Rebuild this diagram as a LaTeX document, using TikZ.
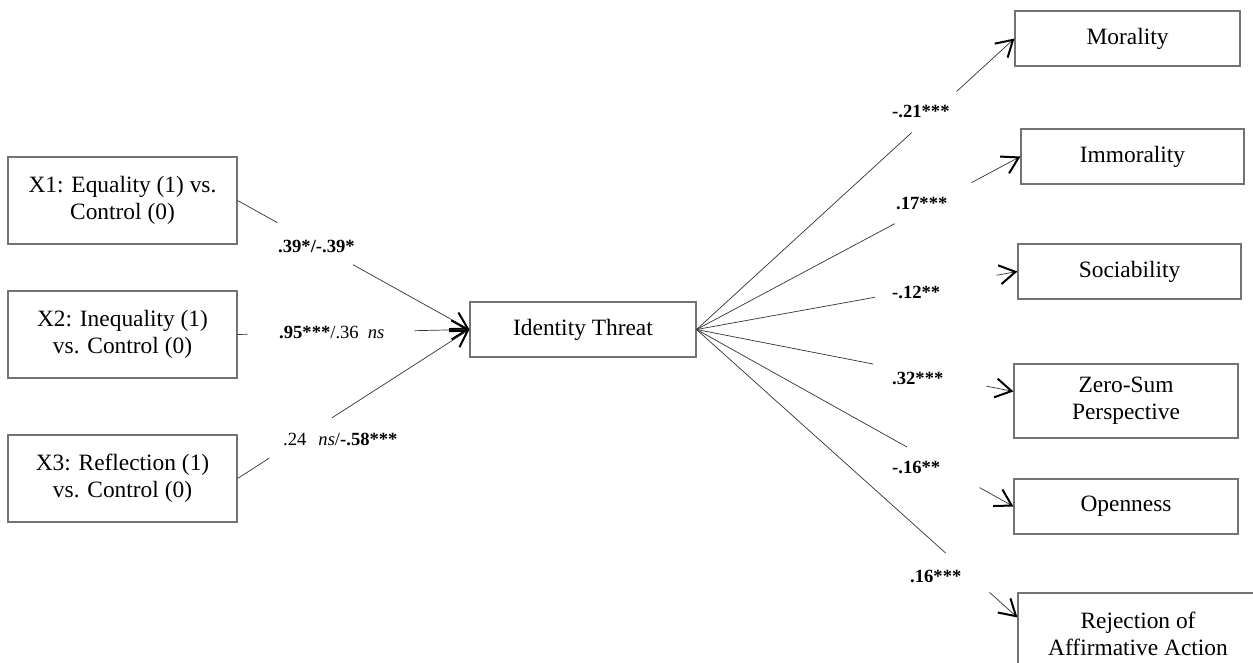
\documentclass[tikz,border=0pt]{standalone}
\usepackage{fontspec}
\setmainfont{Liberation Serif}
\usetikzlibrary{arrows.meta,calc}
\begin{document}
\begin{tikzpicture}[x=1pt,y=-1pt,
  box/.style={draw=black!55, line width=1.1pt, inner sep=0pt, align=center,
              font=\fontsize{23.4}{27}\selectfont},
  conn/.style={draw=black!80, line width=0.7pt},
  arr/.style={conn, -{Straight Barb[length=16pt,width=19pt,line width=2pt,color=black]}},
  lab/.style={anchor=base west, inner sep=0pt, font=\fontsize{18.6}{22}\selectfont\bfseries},
  labm/.style={anchor=base west, inner sep=0pt, font=\fontsize{18.6}{22}\selectfont}]
\useasboundingbox[fill=white] (0,0) rectangle (1253,663);

% left boxes
\node[box, minimum width=229pt, minimum height=87pt] (x1) at (122.5,200.5) {X1: Equality (1) vs.\\Control (0)};
\node[box, minimum width=229pt, minimum height=87pt] (x2) at (122.5,334.5) {X2: Inequality (1)\\vs. Control (0)};
\node[box, minimum width=229pt, minimum height=87pt] (x3) at (122.5,478.5) {X3: Reflection (1)\\vs. Control (0)};
% mediator
\node[box, minimum width=226pt, minimum height=55pt] (it) at (583,329.5) {Identity Threat};
% outcomes
\node[box, minimum width=225pt, minimum height=55pt] (mor) at (1127.5,38.5) {Morality};
\node[box, minimum width=223pt, minimum height=55pt] (imm) at (1132.5,156.5) {Immorality};
\node[box, minimum width=223pt, minimum height=55pt] (soc) at (1129.5,271.5) {Sociability};
\node[box, minimum width=224pt, minimum height=74pt] (zs) at (1126,401) {Zero-Sum\\Perspective};
\node[box, minimum width=224pt, minimum height=55pt] (opn) at (1126,506.5) {Openness};
\node[box, minimum width=240pt, minimum height=82pt] (rej) at (1138,634) {Rejection of\\Affirmative Action};

\coordinate (zsin) at ($(zs.north west)+(0,28)$);
\coordinate (rejin) at ($(rej.north west)+(0,25)$);

% left connectors (with gaps for labels)
\draw[conn] (x1.east) -- ($(x1.east)!0.172!(it.west)$);
\draw[arr] ($(x1.east)!0.498!(it.west)$) -- (it.west);
\draw[conn] (x2.east) -- ($(x2.east)!0.043!(it.west)$);
\draw[arr] ($(x2.east)!0.764!(it.west)$) -- (it.west);
\draw[conn] (x3.east) -- ($(x3.east)!0.137!(it.west)$);
\draw[arr] ($(x3.east)!0.408!(it.west)$) -- (it.west);

% right connectors
\draw[conn] (it.east) -- ($(it.east)!0.677!(mor.west)$);
\draw[arr] ($(it.east)!0.818!(mor.west)$) -- (mor.west);
\draw[conn] (it.east) -- ($(it.east)!0.612!(imm.west)$);
\draw[arr] ($(it.east)!0.849!(imm.west)$) -- (imm.west);
\draw[conn] (it.east) -- ($(it.east)!0.556!(soc.west)$);
\draw[arr] ($(it.east)!0.935!(soc.west)$) -- (soc.west);
\draw[conn] (it.east) -- ($(it.east)!0.557!(zsin)$);
\draw[arr] ($(it.east)!0.915!(zsin)$) -- (zsin);
\draw[conn] (it.east) -- ($(it.east)!0.664!(opn.west)$);
\draw[arr] ($(it.east)!0.893!(opn.west)$) -- (opn.west);
\draw[conn] (it.east) -- ($(it.east)!0.776!(rejin)$);
\draw[arr] ($(it.east)!0.913!(rejin)$) -- (rejin);

% labels
\node[lab] (l1) at (278,252.5) {.39*/-.39*};
\node[labm] (l2) at (279,338) {\textbf{.95***}/.36\hspace{9pt}\textit{ns}};
\node[labm] (l3) at (283,445) {.24\hspace{12pt}\textit{ns}/\textbf{-.58***}};
\node[lab] (r1) at (892,118) {-.21***};
\node[lab] (r2) at (896,210) {.17***};
\node[lab] (r3) at (892,298) {-.12**};
\node[lab] (r4) at (892,384) {.32***};
\node[lab] (r5) at (892,473) {-.16**};
\node[lab] (r6) at (910,582) {.16***};
\end{tikzpicture}
\end{document}
